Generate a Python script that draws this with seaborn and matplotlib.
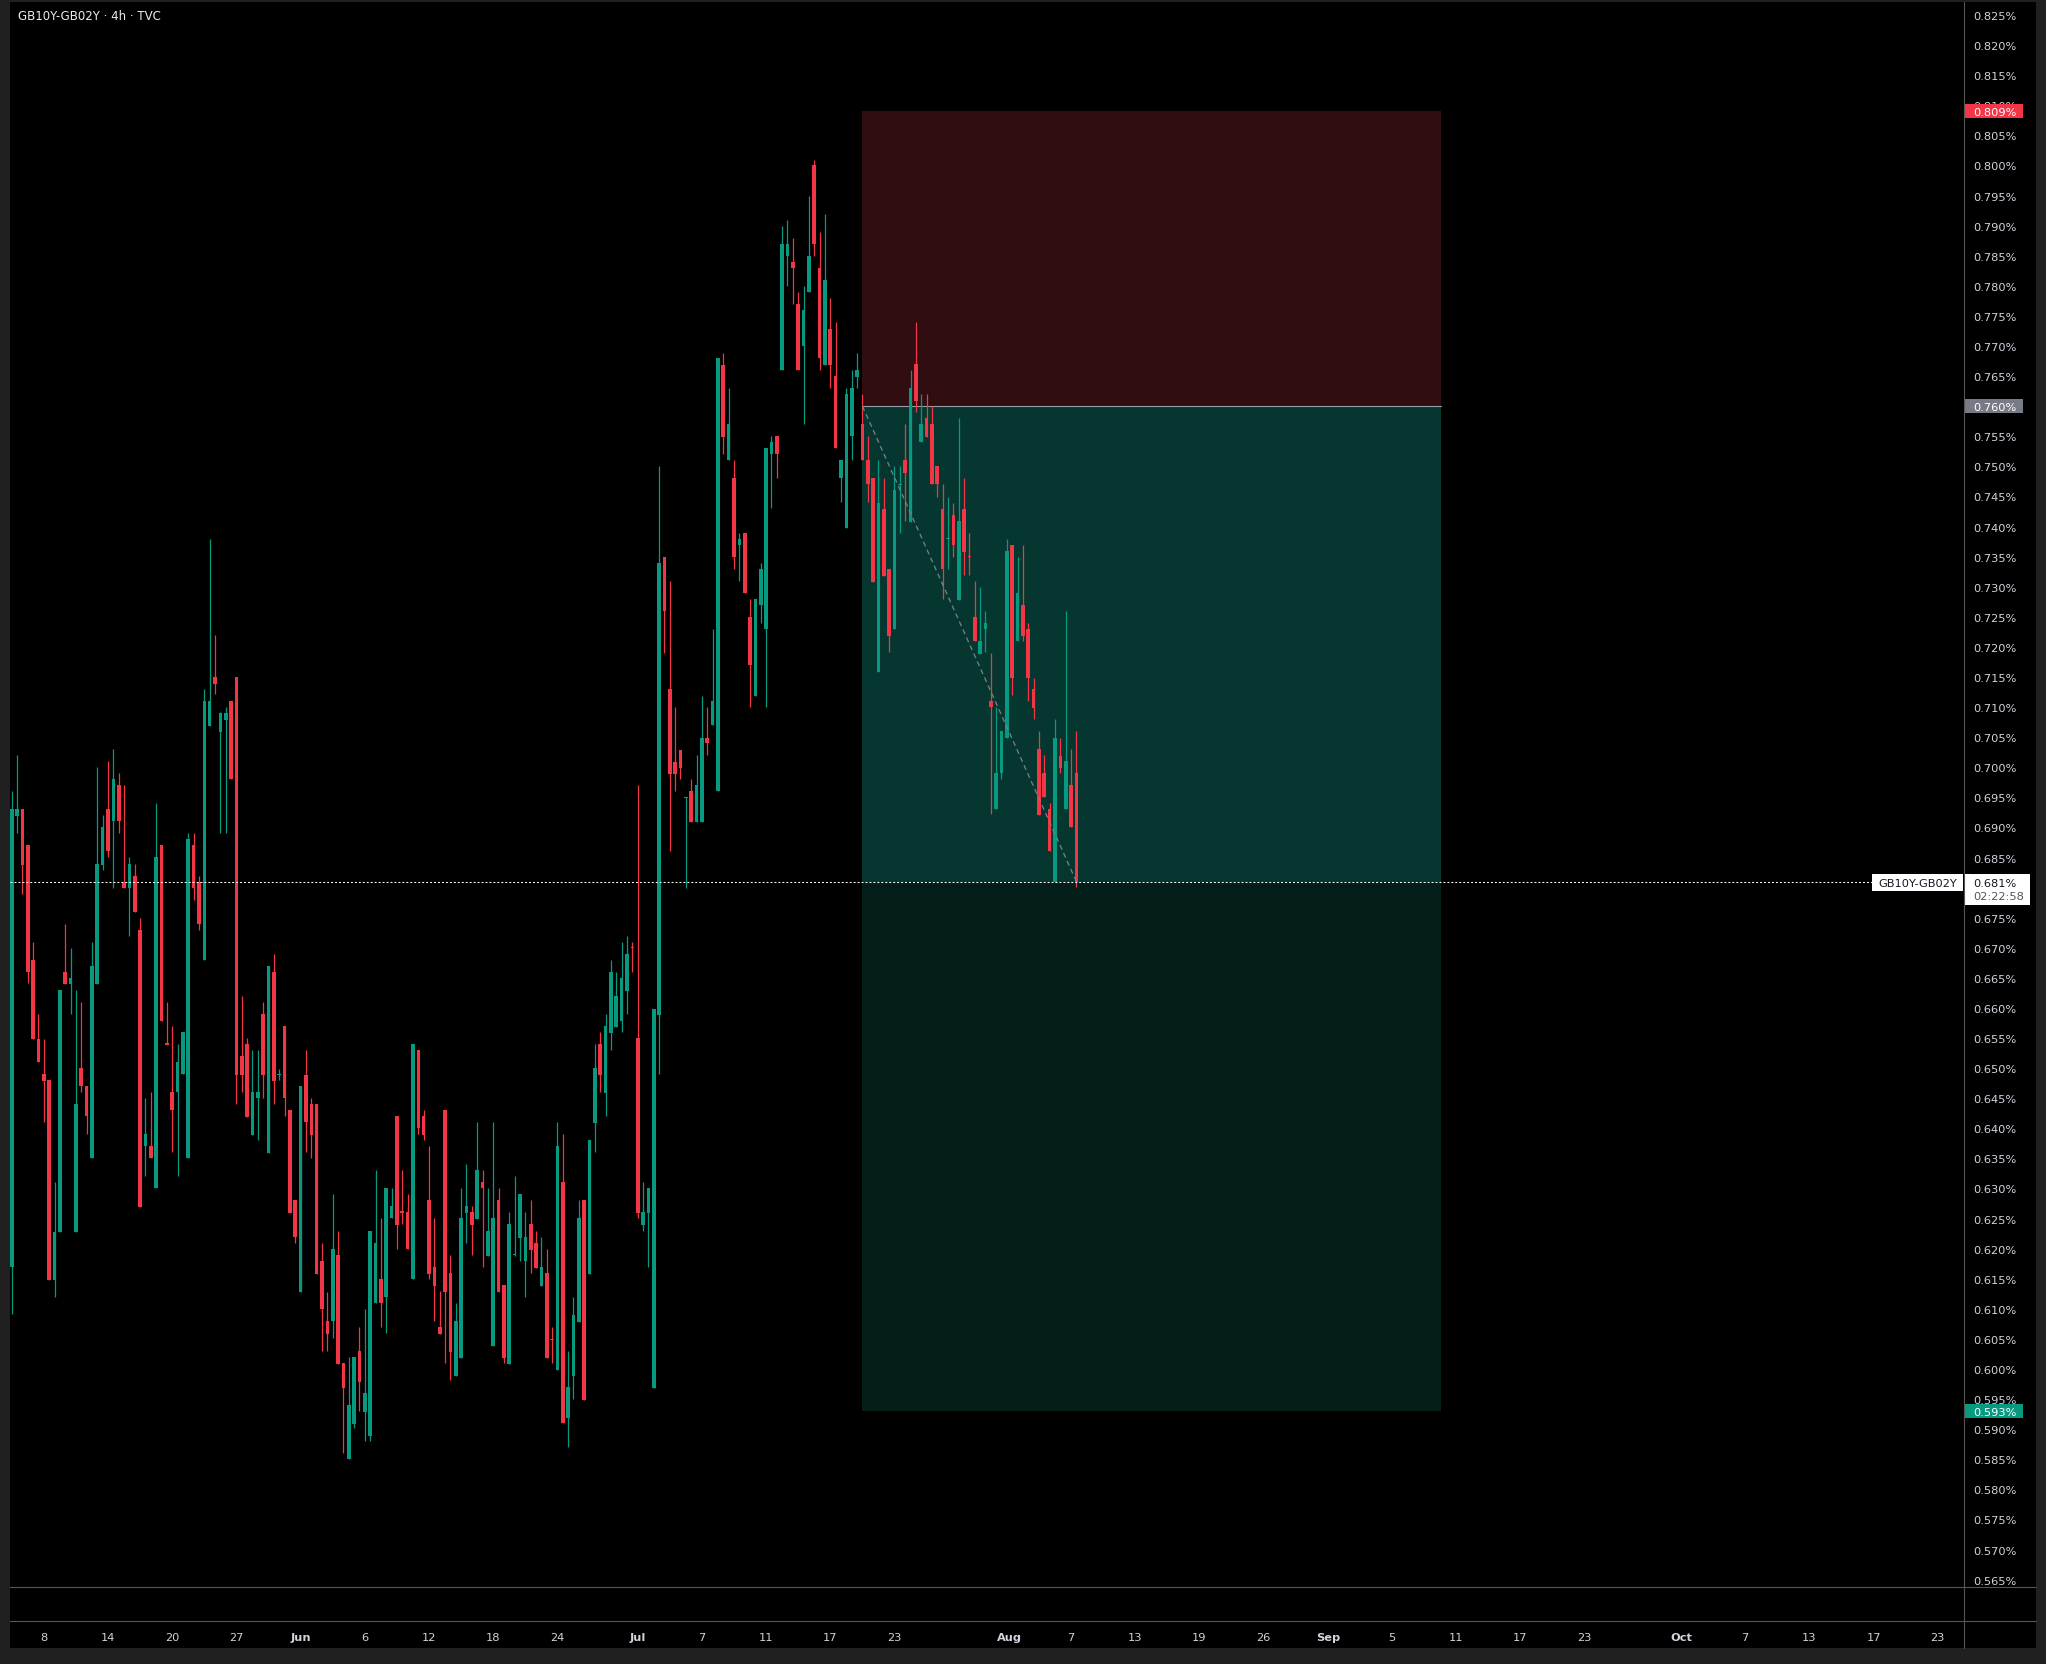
import numpy as np
import pandas as pd
import matplotlib
matplotlib.use("Agg")
import matplotlib.pyplot as plt
import seaborn as sns
from matplotlib.patches import Rectangle
from matplotlib.lines import Line2D
from matplotlib.transforms import blended_transform_factory

# ---------------- data ----------------
open_ = [0.6169,0.6919,0.6931,0.6871,0.6680,0.6549,0.6490,0.6480,0.6148,0.6228,
         0.6660,0.6639,0.6228,0.6500,0.6471,0.6350,0.6639,0.6838,0.6931,0.6910,
         0.6971,0.6809,0.6799,0.6819,0.6729,0.6370,0.6371,0.6300,0.6871,0.6542,
         0.6460,0.6460,0.6490,0.6350,0.6871,0.6809,0.6679,0.7069,0.7150,0.7058,
         0.7078,0.7110,0.7150,0.6520,0.6540,0.6389,0.6450,0.6590,0.6359,0.6659,
         0.6489,0.6570,0.6431,0.6281,0.6128,0.6489,0.6440,0.6440,0.6180,0.6080,
         0.6079,0.6189,0.6010,0.5850,0.5909,0.6030,0.5928,0.5889,0.6109,0.6149,
         0.6119,0.6251,0.6420,0.6262,0.6261,0.6149,0.6530,0.6420,0.6281,0.6170,
         0.6070,0.6430,0.6160,0.5989,0.6018,0.6259,0.6261,0.6249,0.6311,0.6188,
         0.6038,0.6281,0.6140,0.6009,0.6189,0.6218,0.6179,0.6241,0.6209,0.6138,
         0.6160,0.6050,0.5999,0.6311,0.5919,0.5989,0.6078,0.6281,0.6158,0.6409,
         0.6540,0.6459,0.6559,0.6568,0.6579,0.6629,0.6700,0.6550,0.6240,0.6259,
         0.5969,0.6589,0.7349,0.7130,0.7009,0.7029,0.6949,0.6960,0.6909,0.6909,
         0.7049,0.7070,0.6960,0.7669,0.7510,0.7481,0.7369,0.7389,0.7250,0.7119,
         0.7270,0.7230,0.7520,0.7550,0.7660,0.7850,0.7840,0.7769,0.7700,0.7790,
         0.8000,0.7830,0.7669,0.7729,0.7650,0.7480,0.7398,0.7550,0.7649,0.7570,
         0.7510,0.7480,0.7159,0.7429,0.7329,0.7229,0.7469,0.7510,0.7407,0.7670,
         0.7540,0.7580,0.7570,0.7501,0.7429,0.7379,0.7419,0.7278,0.7429,0.7350,
         0.7250,0.7189,0.7229,0.7110,0.6930,0.6990,0.7049,0.7369,0.7209,0.7269,
         0.7230,0.7130,0.7030,0.6990,0.6930,0.6809,0.7019,0.6930,0.6970,0.6990]
high = [0.6961,0.7020,0.6931,0.6871,0.6710,0.6590,0.6549,0.6480,0.6311,0.6630,
        0.6739,0.6700,0.6630,0.6610,0.6471,0.6710,0.7000,0.6921,0.7011,0.7030,
        0.6990,0.6971,0.6851,0.6839,0.6750,0.6450,0.6460,0.6940,0.6871,0.6610,
        0.6570,0.6540,0.6560,0.6891,0.6891,0.6819,0.7130,0.7379,0.7219,0.7092,
        0.7100,0.7110,0.7150,0.6620,0.6550,0.6530,0.6530,0.6610,0.6670,0.6690,
        0.6499,0.6570,0.6431,0.6281,0.6470,0.6530,0.6451,0.6440,0.6209,0.6128,
        0.6291,0.6229,0.6010,0.6020,0.6020,0.6070,0.6100,0.6229,0.6331,0.6251,
        0.6300,0.6300,0.6420,0.6331,0.6291,0.6540,0.6530,0.6430,0.6371,0.6251,
        0.6129,0.6430,0.6190,0.6109,0.6301,0.6341,0.6271,0.6410,0.6331,0.6301,
        0.6410,0.6301,0.6140,0.6261,0.6320,0.6291,0.6261,0.6281,0.6229,0.6219,
        0.6200,0.6070,0.6410,0.6391,0.6030,0.6120,0.6281,0.6281,0.6381,0.6540,
        0.6560,0.6590,0.6680,0.6660,0.6710,0.6720,0.6710,0.6971,0.6311,0.6300,
        0.6599,0.7501,0.7349,0.7309,0.7100,0.7029,0.6950,0.6980,0.7020,0.7119,
        0.7100,0.7230,0.7680,0.7689,0.7630,0.7510,0.7389,0.7389,0.7279,0.7279,
        0.7339,0.7530,0.7550,0.7550,0.7899,0.7910,0.7879,0.7790,0.7800,0.7950,
        0.8009,0.7890,0.7919,0.7780,0.7740,0.7510,0.7630,0.7660,0.7689,0.7620,
        0.7550,0.7480,0.7510,0.7480,0.7329,0.7501,0.7501,0.7570,0.7660,0.7740,
        0.7620,0.7620,0.7600,0.7501,0.7470,0.7449,0.7439,0.7580,0.7480,0.7389,
        0.7309,0.7299,0.7259,0.7190,0.7100,0.7060,0.7379,0.7369,0.7349,0.7369,
        0.7239,0.7149,0.7060,0.7020,0.6940,0.7080,0.7049,0.7259,0.7030,0.7060]
low = [0.6092,0.6891,0.6789,0.6641,0.6549,0.6510,0.6410,0.6148,0.6120,0.6228,
       0.6639,0.6590,0.6228,0.6460,0.6391,0.6350,0.6639,0.6829,0.6851,0.6800,
       0.6891,0.6799,0.6720,0.6759,0.6270,0.6321,0.6350,0.6300,0.6579,0.6539,
       0.6360,0.6321,0.6490,0.6350,0.6779,0.6729,0.6679,0.7069,0.7121,0.6891,
       0.6891,0.6980,0.6440,0.6460,0.6419,0.6389,0.6380,0.6451,0.6359,0.6440,
       0.6480,0.6421,0.6260,0.6209,0.6128,0.6360,0.6351,0.6158,0.6030,0.6030,
       0.6051,0.6009,0.5861,0.5850,0.5902,0.5931,0.5881,0.5881,0.6109,0.6070,
       0.6060,0.6251,0.6200,0.6241,0.6199,0.6149,0.6391,0.6381,0.6150,0.6080,
       0.6058,0.6010,0.5981,0.5989,0.6018,0.6210,0.6190,0.6249,0.6170,0.6188,
       0.6038,0.6128,0.6010,0.6009,0.6188,0.6180,0.6120,0.6160,0.6168,0.6138,
       0.6018,0.6010,0.5999,0.5910,0.5871,0.5950,0.6078,0.5948,0.6158,0.6361,
       0.6461,0.6420,0.6530,0.6568,0.6560,0.6590,0.6660,0.6251,0.6229,0.6169,
       0.5969,0.6490,0.7190,0.6860,0.6960,0.6980,0.6800,0.6909,0.6909,0.6909,
       0.7020,0.7070,0.6960,0.7520,0.7510,0.7329,0.7309,0.7289,0.7100,0.7119,
       0.7239,0.7100,0.7430,0.7481,0.7660,0.7800,0.7769,0.7660,0.7570,0.7790,
       0.7850,0.7660,0.7669,0.7630,0.7530,0.7440,0.7398,0.7510,0.7630,0.7510,
       0.7440,0.7308,0.7159,0.7318,0.7191,0.7229,0.7389,0.7409,0.7407,0.7591,
       0.7540,0.7549,0.7470,0.7449,0.7280,0.7329,0.7350,0.7278,0.7320,0.7320,
       0.7209,0.7189,0.7191,0.6922,0.6930,0.6981,0.7049,0.7120,0.7209,0.7210,
       0.7110,0.7080,0.6920,0.6950,0.6860,0.6809,0.6990,0.6930,0.6900,0.6801]
close = [0.6931,0.6931,0.6838,0.6659,0.6549,0.6510,0.6479,0.6148,0.6228,0.6630,
         0.6639,0.6650,0.6440,0.6470,0.6421,0.6670,0.6839,0.6900,0.6860,0.6980,
         0.6910,0.6799,0.6839,0.6759,0.6270,0.6390,0.6350,0.6851,0.6579,0.6539,
         0.6430,0.6510,0.6560,0.6881,0.6799,0.6739,0.7110,0.7110,0.7138,0.7090,
         0.7090,0.6980,0.6489,0.6489,0.6419,0.6460,0.6460,0.6489,0.6670,0.6479,
         0.6490,0.6450,0.6260,0.6219,0.6470,0.6410,0.6389,0.6158,0.6099,0.6059,
         0.6200,0.6009,0.5969,0.5940,0.6020,0.5978,0.5960,0.6229,0.6209,0.6109,
         0.6300,0.6271,0.6240,0.6260,0.6199,0.6540,0.6400,0.6389,0.6158,0.6138,
         0.6058,0.6128,0.6028,0.6080,0.6251,0.6271,0.6240,0.6331,0.6300,0.6229,
         0.6251,0.6128,0.6018,0.6241,0.6190,0.6291,0.6219,0.6198,0.6168,0.6170,
         0.6018,0.6049,0.6371,0.5910,0.5970,0.6090,0.6251,0.5948,0.6381,0.6500,
         0.6488,0.6570,0.6660,0.6620,0.6650,0.6690,0.6699,0.6259,0.6261,0.6300,
         0.6599,0.7339,0.7259,0.6989,0.6989,0.6998,0.6950,0.6909,0.6971,0.7049,
         0.7040,0.7110,0.7680,0.7549,0.7570,0.7349,0.7379,0.7289,0.7170,0.7279,
         0.7329,0.7530,0.7540,0.7520,0.7870,0.7870,0.7830,0.7660,0.7760,0.7850,
         0.7870,0.7680,0.7809,0.7669,0.7530,0.7510,0.7620,0.7630,0.7660,0.7510,
         0.7470,0.7308,0.7439,0.7318,0.7218,0.7460,0.7470,0.7489,0.7630,0.7608,
         0.7570,0.7549,0.7470,0.7470,0.7329,0.7380,0.7369,0.7409,0.7358,0.7349,
         0.7209,0.7209,0.7239,0.7100,0.6990,0.7060,0.7359,0.7149,0.7290,0.7218,
         0.7149,0.7099,0.6920,0.6950,0.6860,0.7049,0.6999,0.7010,0.6900,0.6810]

xtick_pos = [6, 18, 30, 42, 54, 66, 78, 90, 102, 117, 129, 141, 153, 165, 186.5,
             198, 210, 222, 234, 246, 258, 270, 282, 294, 312, 324, 336, 348, 360]
xtick_labels = ["8", "14", "20", "27", "Jun", "6", "12", "18", "24", "Jul", "7", "11",
                "17", "23", "Aug", "7", "13", "19", "26", "Sep", "5", "11", "17", "23",
                "Oct", "7", "13", "17", "23"]
month_labels = ["Jun", "Jul", "Aug", "Sep", "Oct"]
price_ticks = np.round(np.arange(0.565, 0.8251, 0.005), 3)

title = "GB10Y-GB02Y · 4h · TVC"
symbol = "GB10Y-GB02Y"
entry_price = 0.760
stop_price = 0.809
target_price = 0.593
last_price = 0.681
countdown = "02:22:58"
pos_start, pos_end = 159, 267.1
pos_last_bar = 199

# ---------------- styling ----------------
sns.set_theme(style="dark", rc={"axes.facecolor": "black", "figure.facecolor": "#202020"})
plt.rcParams["font.family"] = ["DejaVu Sans"]

UP = "#089981"
DOWN = "#f23645"
TXT = "#d1d4dc"
SEP = "#555555"

W, H = 2046, 1665
fig = plt.figure(figsize=(W / 100, H / 100), dpi=100)
fig.patch.set_facecolor("#202020")


def fx(px):
    return px / W


def fy(py):
    return 1 - py / H


# black panel inside the grey frame
fig.add_artist(Rectangle((fx(10), fy(1649)), (2036 - 10) / W, (1649 - 3) / H,
                         transform=fig.transFigure, facecolor="black",
                         edgecolor="none", zorder=-5))

ax = fig.add_axes([fx(10), fy(1588), (1964 - 10) / W, (1588 - 3) / H])
ax.set_facecolor("black")
ax.set_xlim(-0.32, 364.9)
ax.set_ylim(0.56378, 0.82716)
for s in ax.spines.values():
    s.set_visible(False)
ax.grid(False)

df = pd.DataFrame({"open": open_, "high": high, "low": low, "close": close})
df["idx"] = np.arange(len(df))
up = df["close"] >= df["open"]
cols = np.where(up, UP, DOWN)

# position tool zones
ax.add_patch(Rectangle((pos_start, entry_price), pos_end - pos_start, stop_price - entry_price,
                       facecolor="#300d10", edgecolor="none", zorder=0.5))
ax.add_patch(Rectangle((pos_start, last_price), pos_end - pos_start, entry_price - last_price,
                       facecolor="#053730", edgecolor="none", zorder=0.5))
ax.add_patch(Rectangle((pos_start, target_price), pos_end - pos_start, last_price - target_price,
                       facecolor="#041e1a", edgecolor="none", zorder=0.5))
ax.plot([pos_start, pos_end], [entry_price, entry_price], color="#9a9da6", lw=0.8, zorder=0.8)

# candles
ax.vlines(df["idx"], df["low"], df["high"], colors=cols, linewidth=0.9, zorder=2)
body_bottom = np.minimum(df["open"], df["close"])
body_h = np.maximum(np.abs(df["close"] - df["open"]), 0.00017)
ax.bar(df["idx"], body_h, bottom=body_bottom, width=0.68, color=cols, linewidth=0, zorder=3)

# dashed trend line of the position
sns.lineplot(x=[pos_start, pos_last_bar], y=[entry_price, last_price], ax=ax,
             color="#7d808a", lw=0.9, linestyle=(0, (4, 3)), zorder=4, legend=False)

# last price dotted line
ax.axhline(last_price, xmin=0, xmax=(1872 - 10) / 1954, color="white", lw=0.75,
           linestyle=(0, (1.9, 1.9)), zorder=4)

# price scale
ax.yaxis.tick_right()
ax.set_yticks(price_ticks)
ax.set_yticklabels([f"{t:.3f}%" for t in price_ticks])
ax.tick_params(axis="y", length=0, pad=6.5, labelsize=8.2, labelcolor=TXT)

# time scale
ax.set_xticks(xtick_pos)
ax.set_xticklabels(xtick_labels)
ax.tick_params(axis="x", length=0, pad=36, labelsize=8.2, labelcolor=TXT)
for lbl in ax.get_xticklabels():
    lbl.set_va("center")
    if lbl.get_text() in month_labels:
        lbl.set_fontweight("bold")

trans = blended_transform_factory(ax.transAxes, ax.transData)


def axx(px):
    return (px - 10) / 1954


PXV = 1 / 6018.0  # price per pixel


def price_box(v, fc, tc="white"):
    ax.add_patch(Rectangle((axx(1965), v - 7 * PXV), axx(2023) - axx(1965), 14 * PXV,
                           transform=trans, facecolor=fc, edgecolor="none",
                           clip_on=False, zorder=10))
    ax.text(axx(1973), v, f"{v:.3f}%", transform=trans, ha="left", va="center_baseline",
            fontsize=8.2, color=tc, clip_on=False, zorder=11)


price_box(stop_price, "#f23645")
price_box(entry_price, "#787b86")
price_box(target_price, "#089981")

# last price label with countdown
ax.add_patch(Rectangle((axx(1965), last_price - 23 * PXV), axx(2030) - axx(1965), 31 * PXV,
                       transform=trans, facecolor="white", edgecolor="none",
                       clip_on=False, zorder=10))
ax.text(axx(1973), last_price, f"{last_price:.3f}%", transform=trans, ha="left",
        va="center_baseline", fontsize=8.2, color="#131722", clip_on=False, zorder=11)
ax.text(axx(1973), last_price - 13.5 * PXV, countdown, transform=trans, ha="left",
        va="center_baseline", fontsize=8.2, color="#50535e", clip_on=False, zorder=11)
# symbol label
ax.add_patch(Rectangle((axx(1872), last_price - 9 * PXV), axx(1963) - axx(1872), 17 * PXV,
                       transform=trans, facecolor="white", edgecolor="none",
                       clip_on=False, zorder=10))
ax.text((axx(1872) + axx(1963)) / 2, last_price, symbol, transform=trans, ha="center",
        va="center_baseline", fontsize=8.2, color="#131722", clip_on=False, zorder=11)

# separators
for yy in (1588, 1622):
    fig.add_artist(Line2D([fx(10), fx(2036)], [fy(yy), fy(yy)], transform=fig.transFigure,
                          color=SEP, lw=0.8, zorder=6))
fig.add_artist(Line2D([fx(1964), fx(1964)], [fy(3), fy(1649)], transform=fig.transFigure,
                      color=SEP, lw=0.8, zorder=6))

# title
fig.text(fx(18), fy(16), title, ha="left", va="center", fontsize=8.5, color="#ededed")

fig.savefig("out.png", dpi=100, facecolor=fig.get_facecolor())
